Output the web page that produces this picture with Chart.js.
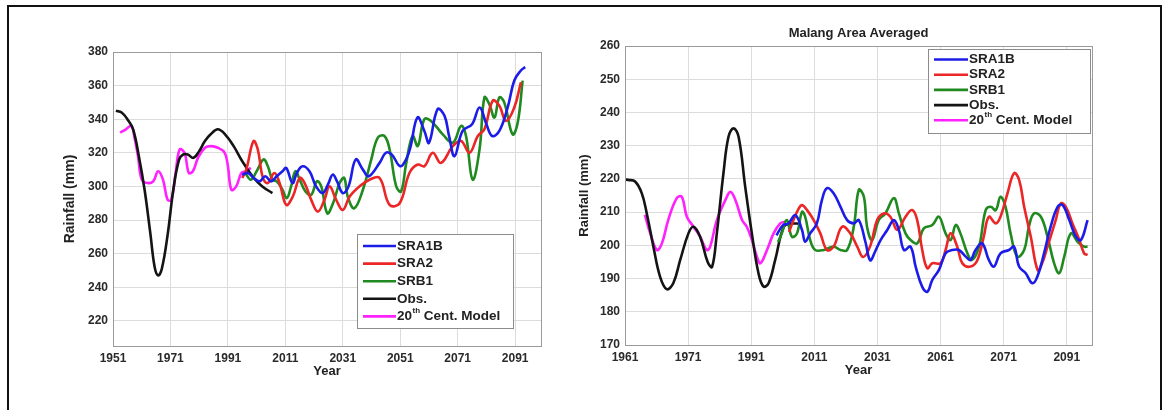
<!DOCTYPE html>
<html>
<head>
<meta charset="utf-8">
<script src="https://cdn.jsdelivr.net/npm/chart.js@4.4.1/dist/chart.umd.min.js"></script>
<style>
  html, body { margin: 0; padding: 0; background: #fff; }
  #wrap { position: relative; width: 1166px; height: 410px; overflow: hidden; background: #fff; }
  #frame { position: absolute; left: 7px; top: 5px; width: 1155px; height: 420px; border: 2px solid #111; box-sizing: border-box; }
  canvas { position: absolute; top: 0; }
  #cL { left: 0; }
  #cR { left: 560px; }
</style>
</head>
<body>
<div id="wrap">
  <div id="frame"></div>
  <canvas id="cL" width="560" height="410"></canvas>
  <canvas id="cR" width="606" height="410"></canvas>
</div>
<script>
// Series shared by both panels
const SERIES_NAMES = ['SRA1B', 'SRA2', 'SRB1', 'Obs.', '20th Cent. Model'];
const SERIES_COLORS = ['#1c1ce8', '#ec2626', '#208a20', '#141414', '#ff22ff'];

// ---- Left panel: rainfall (mm), 1951-2100 ----
const L_X_TICKS = [1951, 1971, 1991, 2011, 2031, 2051, 2071, 2091];
const L_Y_TICKS = [220, 240, 260, 280, 300, 320, 340, 360, 380];

const L_SRA1B_YEARS = [1996, 1998, 2000, 2002, 2004, 2006, 2008, 2010, 2011.3, 2013.5, 2015, 2017, 2019.4, 2021.7, 2024, 2025.8, 2027.5, 2029, 2031, 2033, 2035.5, 2038, 2040, 2043.8, 2046, 2048, 2051, 2053, 2054.5, 2057, 2059.4, 2061, 2064, 2066.4, 2068, 2069.9, 2072.7, 2076, 2078.6, 2081, 2083, 2085.5, 2088.4, 2090.7, 2093, 2094.5];
const L_SRA1B = [307, 308, 305, 303, 306, 303, 306, 309, 311, 302, 308, 312, 309, 300, 296, 301, 307, 303, 296, 300, 316, 310, 306, 314, 320, 319, 312, 316, 323, 341, 333, 326, 346, 342, 330, 318, 333, 337, 347, 337, 330, 333, 347, 363, 369, 371];

const L_SRA2_YEARS = [1996, 1997.4, 1999.9, 2001.4, 2003.2, 2004.9, 2007.2, 2009, 2011.3, 2013.6, 2016, 2017.7, 2020, 2022.3, 2024.6, 2026.4, 2028.7, 2031, 2033.4, 2036.8, 2040.3, 2043.8, 2047.3, 2050.8, 2054.2, 2057.1, 2059.4, 2062.3, 2065.2, 2069.3, 2072.2, 2075.1, 2078, 2080.3, 2083.2, 2085.5, 2087.8, 2090.7, 2093];
const L_SRA2 = [305, 310, 327, 322, 305, 302, 308, 302, 289, 294, 305, 302, 292, 285, 292, 300, 292, 286, 294, 300, 304, 305, 289, 290, 308, 313, 312, 320, 314, 324, 327, 320, 330, 334, 351, 348, 339, 347, 362];

const L_SRB1_YEARS = [1997, 1999, 2001, 2003.4, 2004.9, 2006.5, 2008, 2010, 2011.5, 2013, 2014.5, 2016, 2018, 2020, 2022, 2023.5, 2025.6, 2027.6, 2029.9, 2031.5, 2032.7, 2035, 2038, 2040.9, 2043.2, 2045.5, 2047.3, 2049.6, 2051.3, 2053.1, 2055.3, 2057.1, 2059.4, 2061.7, 2065.8, 2069.3, 2072.2, 2073.9, 2076.2, 2078.6, 2080.3, 2082, 2083.8, 2085.5, 2087.2, 2090.1, 2091.9, 2093.6];
const L_SRB1 = [308, 304, 309, 316, 312, 304, 303, 298, 293, 300, 309, 304, 297, 295, 303, 300, 284, 290, 302, 305, 294, 287, 298, 316, 329, 330, 322, 300, 297, 314, 330, 324, 340, 339, 331, 326, 336, 330, 304, 322, 353, 349, 341, 353, 350, 331, 338, 363];

const L_OBS_YEARS = [1952, 1954, 1956, 1958, 1960, 1962, 1964, 1965.5, 1966.7, 1968, 1970, 1972, 1974, 1975.5, 1977, 1979, 1981, 1983, 1985, 1987.5, 1990, 1993, 1996, 2000, 2003, 2006.5];
const L_OBS = [345, 344, 340, 334, 318, 298, 272, 252, 247, 251, 271, 298, 316, 319, 319, 317, 321, 327, 331, 334, 331, 324, 315, 305, 300, 296];

const L_C20_YEARS = [1953.5, 1955.5, 1957.4, 1958.5, 1959.7, 1961, 1963, 1965, 1966.7, 1968.4, 1970, 1971.3, 1972.8, 1974.2, 1975.9, 1977.4, 1978.8, 1980.6, 1983, 1985.2, 1987.5, 1989.9, 1991, 1992.2, 1993.9, 1995.7, 1997.4, 1999];
const L_C20 = [332, 334, 336, 329, 318, 304, 302, 303, 309, 304, 292, 292, 308, 322, 320, 308, 309, 317, 323, 324, 323, 320, 312, 298, 300, 308, 309, 311];

// ---- Right panel: Malang area averaged ----
// tick positions along the time axis and the labels printed under them
const R_X_TICK_POS = [1961, 1981, 2001, 2021, 2041, 2061, 2081, 2101];
const R_X_TICK_LABELS = ['1961', '1971', '1991', '2011', '2031', '2061', '2071', '2091'];

const R_SRA1B_X = [2009, 2011, 2012.8, 2015, 2017.1, 2018.1, 2019.7, 2021.8, 2023.4, 2025, 2027.1, 2029.3, 2031.4, 2033.5, 2035.1, 2037.2, 2038.7, 2040.2, 2042, 2044.1, 2046.2, 2047.8, 2049.4, 2051.5, 2053.1, 2055.2, 2056.8, 2058.4, 2060.5, 2062.6, 2064.7, 2066.8, 2069, 2070.5, 2072.1, 2074.2, 2076.3, 2077.9, 2080, 2082.7, 2084.3, 2085.9, 2088, 2090.1, 2091.7, 2093.8, 2095.9, 2098.1, 2099.7, 2101.8, 2103.9, 2105.5, 2107.6];
const R_SRA1B = [203, 206, 206.6, 209.1, 204.6, 201.1, 203.6, 206.6, 213.6, 217.2, 215.7, 211.6, 207.6, 206.6, 207.6, 201, 195.5, 198, 201.6, 204.6, 207.6, 204.6, 198.6, 199.6, 193.6, 187.5, 186, 189.6, 192.6, 197.6, 198.6, 198.6, 196.6, 195.6, 198.6, 200.6, 195.6, 193.6, 197.6, 198.6, 199.6, 193.6, 191.6, 188.6, 190.6, 197.6, 205.6, 211.6, 212.1, 207.6, 202.6, 201.6, 207.6];

const R_SRA2_X = [2013, 2014.4, 2016, 2017.1, 2018.7, 2020.8, 2022.9, 2025, 2027.1, 2029.8, 2032.4, 2034.6, 2036.5, 2038.8, 2040.9, 2043, 2045.1, 2047.3, 2049.9, 2052, 2053.6, 2055.2, 2056.8, 2058.4, 2061, 2062.6, 2064.2, 2066.3, 2067.9, 2070.5, 2072.7, 2074.7, 2076.3, 2078.5, 2080, 2082.2, 2084.3, 2085.9, 2087.5, 2089.6, 2091.8, 2093.2, 2094.9, 2097.5, 2099.1, 2100.7, 2102.8, 2105, 2106.5, 2107.6];
const R_SRA2 = [204, 207.6, 211, 212.1, 210.6, 207.6, 203.6, 198.6, 199.6, 205.6, 203.6, 199.6, 196.5, 200, 207.6, 209.6, 208.6, 204.6, 208.6, 210.6, 207.6, 198.6, 193.1, 194.6, 194.6, 198.6, 203.6, 199.6, 194.6, 193.6, 195.6, 202.6, 208.6, 206.6, 208.6, 215.6, 221.7, 219.7, 211.6, 202.6, 192.5, 194.6, 199.6, 207.6, 212.6, 211.6, 206.6, 201.6, 197.6, 197.1];

const R_SRB1_X = [2009.5, 2010.7, 2012.3, 2013.9, 2015.5, 2017.1, 2018.1, 2019.7, 2021.3, 2024, 2027.1, 2029.3, 2031.4, 2033.5, 2035.1, 2036.7, 2037.7, 2039.3, 2041.4, 2043.5, 2046.2, 2047.8, 2049.9, 2051.5, 2053.6, 2055.7, 2058.4, 2060.5, 2062.6, 2064.2, 2065.8, 2067.3, 2069.5, 2071, 2073.2, 2075.3, 2076.9, 2078.5, 2080, 2081.6, 2083.2, 2085.3, 2087.5, 2089, 2090.6, 2092.8, 2094.9, 2097, 2098.6, 2100.2, 2102.3, 2104.5, 2106.5, 2107.6];
const R_SRB1 = [201, 203.6, 207.6, 202.6, 203.6, 210.1, 208.6, 201.6, 198.6, 198.6, 199.6, 198.6, 198.6, 205.6, 216.7, 214.6, 205.6, 201.6, 207.6, 209.6, 214.2, 209.6, 203.6, 201.6, 200.6, 205.1, 206.1, 208.6, 203.6, 201.6, 206.1, 203.6, 197.6, 195.6, 199.6, 210.6, 211.6, 210.6, 214.6, 211.6, 203.6, 196.6, 198.6, 205.6, 209.6, 208.6, 202.6, 194.6, 191.6, 196.6, 203.6, 201, 199.6, 199.6];

const R_OBS_X = [1961, 1962, 1964.2, 1966.3, 1967.9, 1970, 1972.1, 1974.2, 1976.3, 1978.5, 1981.1, 1982.7, 1984.8, 1987.2, 1988.6, 1990.1, 1992.2, 1993.8, 1995.4, 1997, 1999.1, 2001.2, 2003.3, 2004.9, 2006.5, 2008.6, 2011.3, 2013.4, 2016.6];
const R_OBS = [219.8, 219.7, 219.2, 215.7, 209.6, 199.6, 190.6, 186.8, 188.6, 195.6, 203.6, 205.6, 202.6, 195, 193.5, 203.6, 221.7, 232.7, 235.2, 232.7, 217.6, 203.6, 191.6, 187.6, 188.6, 195.6, 205.6, 206.5, 206.5];

const R_C20_X = [1967.3, 1969, 1971.1, 1972.7, 1974.7, 1977.4, 1979, 1980.6, 1982.7, 1984.8, 1986.9, 1988, 1990.1, 1992.8, 1994.4, 1996, 1998.1, 1999.6, 2001.2, 2002.8, 2003.9, 2006, 2008.1, 2010.2, 2011.8];
const R_C20 = [209.2, 203.6, 198.6, 200.6, 207.6, 214.2, 214.6, 208.6, 205.6, 202.6, 198.6, 199.6, 207.6, 213.6, 216.1, 213.6, 207.6, 205.6, 201.6, 196.6, 194.6, 198.6, 203.6, 206.6, 207.1];

// ---- helpers ----
const FONT = "'Liberation Sans', Arial, Helvetica, sans-serif";
const toPoints = (xs, ys) => xs.map((x, i) => ({ x: x, y: ys[i] }));

function buildDatasets(pairs) {
  return pairs.map(([xs, ys], i) => ({
    label: SERIES_NAMES[i],
    data: toPoints(xs, ys),
    borderColor: SERIES_COLORS[i],
    backgroundColor: SERIES_COLORS[i],
    borderWidth: 2.6,
    pointRadius: 0,
    tension: 0.4,
    fill: false
  }));
}

// Plot frame around the axes area
const plotBox = {
  id: 'plotBox',
  afterDatasetsDraw(chart) {
    const { ctx, chartArea: a } = chart;
    ctx.save();
    ctx.strokeStyle = '#9a9a9a';
    ctx.lineWidth = 1;
    ctx.strokeRect(Math.round(a.left) + 0.5, Math.round(a.top) + 0.5,
                   Math.round(a.right - a.left), Math.round(a.bottom - a.top));
    ctx.restore();
  }
};

// Boxed legend with line samples; "20th" gets a raised suffix
const boxLegend = {
  id: 'boxLegend',
  afterDraw(chart, args, o) {
    const ctx = chart.ctx;
    ctx.save();
    ctx.fillStyle = '#fff';
    ctx.fillRect(o.x, o.y, o.w, o.h);
    ctx.strokeStyle = '#8c8c8c';
    ctx.lineWidth = 1;
    ctx.strokeRect(o.x + 0.5, o.y + 0.5, o.w, o.h);
    chart.data.datasets.forEach((ds, i) => {
      const y = o.row0 + i * o.step;
      ctx.strokeStyle = ds.borderColor;
      ctx.lineWidth = 2.6;
      ctx.beginPath();
      ctx.moveTo(o.lx0, y);
      ctx.lineTo(o.lx1, y);
      ctx.stroke();
      ctx.fillStyle = '#222';
      ctx.textBaseline = 'middle';
      ctx.textAlign = 'left';
      const m = /^(\d+)(th)(.*)$/.exec(ds.label);
      let x = o.tx;
      if (m) {
        ctx.font = 'bold ' + o.size + 'px ' + FONT;
        ctx.fillText(m[1], x, y);
        x += ctx.measureText(m[1]).width;
        ctx.font = 'bold ' + Math.round(o.size * 0.62) + 'px ' + FONT;
        ctx.fillText(m[2], x + 0.5, y - o.size * 0.38);
        x += ctx.measureText(m[2]).width + 0.5;
        ctx.font = 'bold ' + o.size + 'px ' + FONT;
        ctx.fillText(m[3], x, y);
      } else {
        ctx.font = 'bold ' + o.size + 'px ' + FONT;
        ctx.fillText(ds.label, x, y);
      }
    });
    ctx.restore();
  }
};

const tickFont = { family: FONT, size: 12, weight: 'bold' };
const titleFont = { family: FONT, size: 13, weight: 'bold' };
const GRID = '#dcdcdc';

// ---- left chart ----
new Chart(document.getElementById('cL'), {
  type: 'line',
  data: {
    datasets: buildDatasets([
      [L_SRA1B_YEARS, L_SRA1B], [L_SRA2_YEARS, L_SRA2], [L_SRB1_YEARS, L_SRB1],
      [L_OBS_YEARS, L_OBS], [L_C20_YEARS, L_C20]
    ])
  },
  options: {
    responsive: false,
    animation: false,
    devicePixelRatio: 1,
    layout: { padding: { left: 0, right: 19, top: 52, bottom: 0 } },
    plugins: {
      legend: { display: false },
      tooltip: { enabled: false },
      boxLegend: { x: 357, y: 234, w: 156, h: 94, row0: 246, step: 17.6, lx0: 363, lx1: 396, tx: 397, size: 13.5 }
    },
    scales: {
      x: {
        type: 'linear', min: 1951, max: 2100,
        afterBuildTicks: s => { s.ticks = L_X_TICKS.map(v => ({ value: v })); },
        afterFit: s => { s.height = 64; },
        ticks: { font: tickFont, color: '#2a2a2a', padding: 5, maxRotation: 0, autoSkip: false, callback: v => String(v) },
        grid: { color: GRID, drawTicks: false },
        border: { color: '#8a8a8a' },
        title: { display: true, text: 'Year', font: titleFont, color: '#222', padding: { top: 0, bottom: 31 } }
      },
      y: {
        min: 205, max: 380,
        afterBuildTicks: s => { s.ticks = L_Y_TICKS.map(v => ({ value: v })); },
        afterFit: s => { s.width = 113; },
        ticks: { font: tickFont, color: '#2a2a2a', padding: 5 },
        grid: { color: GRID, drawTicks: false },
        border: { color: '#8a8a8a' },
        title: { display: true, text: 'Rainfall (mm)', font: { family: FONT, size: 14, weight: 'bold' }, color: '#222', padding: { top: 62, bottom: 0 } }
      }
    }
  },
  plugins: [plotBox, boxLegend]
});

// ---- right chart ----
new Chart(document.getElementById('cR'), {
  type: 'line',
  data: {
    datasets: buildDatasets([
      [R_SRA1B_X, R_SRA1B], [R_SRA2_X, R_SRA2], [R_SRB1_X, R_SRB1],
      [R_OBS_X, R_OBS], [R_C20_X, R_C20]
    ])
  },
  options: {
    responsive: false,
    animation: false,
    devicePixelRatio: 1,
    layout: { padding: { left: 0, right: 74, top: 0, bottom: 0 } },
    plugins: {
      legend: { display: false },
      tooltip: { enabled: false },
      title: {
        display: true, text: 'Malang Area Averaged', fullSize: false,
        font: titleFont, color: '#222', padding: { top: 25.5, bottom: 4.9 }
      },
      boxLegend: { x: 368, y: 49, w: 162, h: 84, row0: 59.5, step: 15.2, lx0: 374, lx1: 408, tx: 409, size: 13.5 }
    },
    scales: {
      x: {
        type: 'linear', min: 1961, max: 2109,
        afterBuildTicks: s => { s.ticks = R_X_TICK_POS.map(v => ({ value: v })); },
        afterFit: s => { s.height = 65; },
        ticks: {
          font: tickFont, color: '#2a2a2a', padding: 5, maxRotation: 0, autoSkip: false,
          callback: v => { const k = R_X_TICK_POS.indexOf(v); return k >= 0 ? R_X_TICK_LABELS[k] : ''; }
        },
        grid: { color: GRID, drawTicks: false },
        border: { color: '#8a8a8a' },
        title: { display: true, text: 'Year', font: titleFont, color: '#222', padding: { top: 0, bottom: 32 } }
      },
      y: {
        min: 170, max: 260,
        ticks: { stepSize: 10, font: tickFont, color: '#2a2a2a', padding: 5 },
        afterFit: s => { s.width = 65; },
        grid: { color: GRID, drawTicks: false },
        border: { color: '#8a8a8a' },
        title: { display: true, text: 'Rainfall (mm)', font: titleFont, color: '#222', padding: { top: 17, bottom: 0 } }
      }
    }
  },
  plugins: [plotBox, boxLegend]
});
</script>
</body>
</html>
